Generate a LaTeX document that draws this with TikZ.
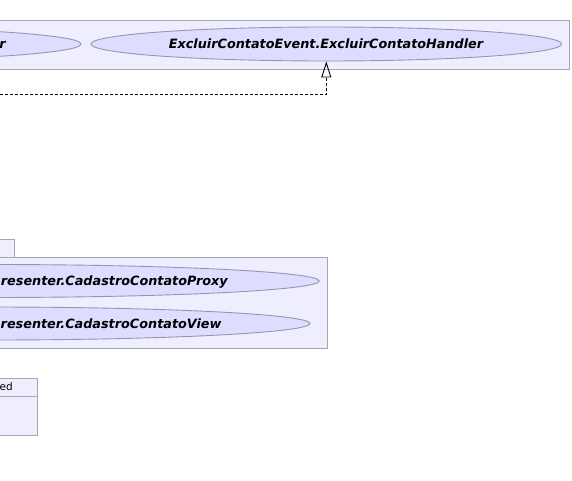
\documentclass[tikz,border=0pt]{standalone}
\usepackage{fontspec}
\setmainfont{DejaVu Sans}
\usetikzlibrary{arrows.meta,shapes.geometric}
\definecolor{boxfill}{RGB}{238,238,255}
\definecolor{boxline}{RGB}{165,165,180}
\definecolor{ellfill}{RGB}{221,221,255}
\definecolor{ellline}{RGB}{150,150,175}
\tikzset{
  pkgbox/.style={draw=boxline,fill=boxfill,line width=1pt},
  usecase/.style={ellipse,draw=ellline,fill=ellfill,line width=0.9pt,inner sep=0pt},
  uclabel/.style={font=\fontsize{12.8}{14}\selectfont\bfseries\itshape,inner sep=0pt},
  clslabel/.style={font=\fontsize{10.5}{12}\selectfont,inner sep=0pt},
  realize/.style={draw=black,line width=0.9pt,dash pattern=on 3pt off 2pt,
    -{Triangle[open,length=16pt,width=10pt]}},
}
\begin{document}
\begin{tikzpicture}[x=1pt,y=-1pt]
\useasboundingbox (0,0) rectangle (572,481);
\clip (0,0) rectangle (572,481);
% top package
\draw[pkgbox] (-10,20.3) rectangle (569.3,69.3);
\node[usecase,minimum width=524pt,minimum height=34pt] (leftuc) at (-181,44) {};
\node[uclabel,anchor=base east] (leftlbl) at (6,48.3) {r};
\node[usecase,minimum width=470.7pt,minimum height=34pt] (handler) at (326.3,44) {};
\node[uclabel] (handlerlbl) at (326,44) {ExcluirContatoEvent.ExcluirContatoHandler};
% realization connector
\coordinate (src) at (-10,94.3);
\coordinate (bend) at (326.3,94.3);
\draw[realize] (src) -- (bend) -- (handler.south);
% middle package
\draw[pkgbox] (-10,239.3) rectangle (14.7,257);
\draw[pkgbox] (-10,257) rectangle (327.7,348);
\node[usecase,minimum width=660pt,minimum height=33pt] (proxy) at (-10.7,281) {};
\node[uclabel,anchor=base east] (proxylbl) at (228,285.5) {resenter.CadastroContatoProxy};
\node[usecase,minimum width=640pt,minimum height=33pt] (view) at (-10,323.5) {};
\node[uclabel,anchor=base east] (viewlbl) at (221.7,328) {resenter.CadastroContatoView};
% bottom class box
\draw[pkgbox] (-10,378.3) rectangle (37,435);
\draw[boxline,line width=1pt] (-10,396) -- (37,396);
\node[clslabel,anchor=base east] (clslbl) at (13,390.7) {ed};
\end{tikzpicture}
\end{document}
